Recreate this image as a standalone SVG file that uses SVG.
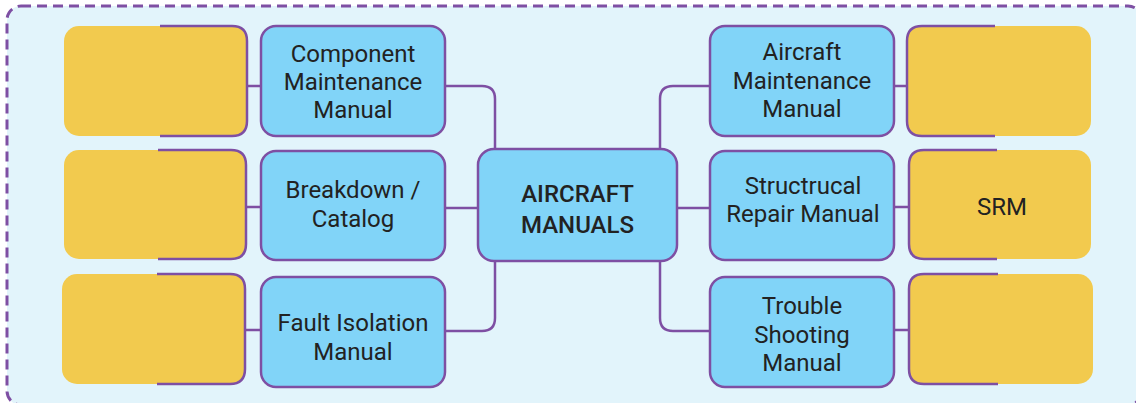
<svg xmlns="http://www.w3.org/2000/svg" width="1136" height="403" viewBox="0 0 1136 403">
<style>
.bg{fill:#E2F4FB;stroke:#7E4FA3;stroke-width:3;stroke-dasharray:10 6}
.blue{fill:#81D4F8;stroke:#7E4FA3;stroke-width:2.5}
.yel{fill:#F2CA4E}
.br{fill:none;stroke:#7E4FA3;stroke-width:2.5}
.con{fill:none;stroke:#7E4FA3;stroke-width:2.5}
.t{font-family:Roboto,"Liberation Sans",sans-serif;font-size:24px;fill:#222;text-anchor:middle}
.tb{font-family:Roboto,"Liberation Sans",sans-serif;font-size:24px;font-weight:500;fill:#222;text-anchor:middle}
</style>
<rect class="bg" x="7" y="6" width="1135" height="399" rx="14"/>
<g id="connectors">
<path class="con" d="M445,86 H482 Q495,86 495,99 V149"/>
<path class="con" d="M445,208 H478"/>
<path class="con" d="M495,261 V318 Q495,331 482,331 H445"/>
<path class="con" d="M660,149 V99 Q660,86 673,86 H710"/>
<path class="con" d="M677,208 H710"/>
<path class="con" d="M660,261 V318 Q660,331 673,331 H710"/>
<path class="con" d="M247,86 H261"/>
<path class="con" d="M246,207 H261"/>
<path class="con" d="M245,330 H261"/>
<path class="con" d="M894,86 H907"/>
<path class="con" d="M894,207 H909"/>
<path class="con" d="M894,330 H909"/>
</g>
<g id="center">
<rect class="blue" x="478" y="149" width="199" height="112" rx="16"/>
<text class="tb" x="577.5" y="202">AIRCRAFT</text>
<text class="tb" x="577.5" y="233">MANUALS</text>
</g>
<g id="cmm">
<rect class="blue" x="261" y="26" width="184" height="110" rx="15"/>
<text class="t" x="353" y="61.5">Component</text>
<text class="t" x="353" y="90">Maintenance</text>
<text class="t" x="353" y="118">Manual</text>
</g>
<g id="ipc">
<rect class="blue" x="261" y="151" width="184" height="109" rx="15"/>
<text class="t" x="353" y="198">Breakdown /</text>
<text class="t" x="353" y="227">Catalog</text>
</g>
<g id="fim">
<rect class="blue" x="261" y="277" width="184" height="110" rx="15"/>
<text class="t" x="353" y="331">Fault Isolation</text>
<text class="t" x="353" y="359.5">Manual</text>
</g>
<g id="amm">
<rect class="blue" x="710" y="26" width="184" height="110" rx="15"/>
<text class="t" x="802" y="60">Aircraft</text>
<text class="t" x="802" y="89">Maintenance</text>
<text class="t" x="802" y="117">Manual</text>
</g>
<g id="srm">
<rect class="blue" x="710" y="151" width="184" height="109" rx="15"/>
<text class="t" x="803" y="194">Structrucal</text>
<text class="t" x="803" y="222.3">Repair Manual</text>
</g>
<g id="tsm">
<rect class="blue" x="710" y="277" width="184" height="110" rx="15"/>
<text class="t" x="802" y="314">Trouble</text>
<text class="t" x="802" y="343">Shooting</text>
<text class="t" x="802" y="371">Manual</text>
</g>
<g id="y-l1">
<rect class="yel" x="64" y="26" width="183" height="110" rx="15"/>
<path class="br" d="M160,26 H232 Q247,26 247,41 V121 Q247,136 232,136 H160"/>
</g>
<g id="y-l2">
<rect class="yel" x="64" y="150" width="182" height="109" rx="15"/>
<path class="br" d="M158,150 H231 Q246,150 246,165 V244 Q246,259 231,259 H158"/>
</g>
<g id="y-l3">
<rect class="yel" x="62" y="274" width="183" height="110" rx="15"/>
<path class="br" d="M157,274 H230 Q245,274 245,289 V369 Q245,384 230,384 H157"/>
</g>
<g id="y-r1">
<rect class="yel" x="907" y="26" width="184" height="110" rx="15"/>
<path class="br" d="M995,26 H922 Q907,26 907,41 V121 Q907,136 922,136 H995"/>
</g>
<g id="y-r2">
<rect class="yel" x="909" y="150" width="182" height="109" rx="15"/>
<path class="br" d="M997,150 H924 Q909,150 909,165 V244 Q909,259 924,259 H997"/>
<text class="t" x="1002" y="215">SRM</text>
</g>
<g id="y-r3">
<rect class="yel" x="909" y="274" width="184" height="110" rx="15"/>
<path class="br" d="M998,274 H924 Q909,274 909,289 V369 Q909,384 924,384 H998"/>
</g>
</svg>
